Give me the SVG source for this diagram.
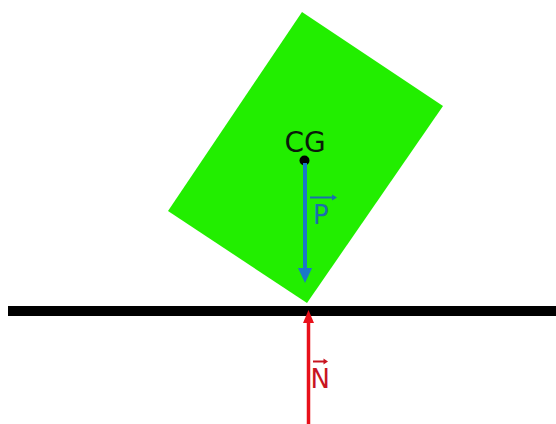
<svg xmlns="http://www.w3.org/2000/svg" width="556" height="424" viewBox="0 0 556 424">
<style>
.lbl{font-family:"DejaVu Sans",sans-serif;}
</style>
<rect width="556" height="424" fill="#ffffff"/>
<g id="block">
<polygon points="302,12 443,106 307,303 168,211" fill="#22ee00"/>
</g>
<g id="ground">
<rect x="8" y="306" width="548" height="10" fill="#000000"/>
</g>
<g id="cg">
<circle cx="304.5" cy="160.5" r="5" fill="#000000"/>
<text class="lbl" x="305" y="152" font-size="28" text-anchor="middle" fill="#0a1a0a">CG</text>
</g>
<g id="connectors">
<g id="force-P">
<line x1="305" y1="163" x2="305" y2="270" stroke="#1a78c8" stroke-width="4"/>
<polygon points="298,268 312,268 305,283" fill="#1a78c8"/>
<line x1="310" y1="197.5" x2="335" y2="197.5" stroke="#1a6fae" stroke-width="2"/>
<polygon points="337,197.5 332,194.5 332,200.5" fill="#1a6fae"/>
<text class="lbl" x="313" y="224" font-size="26" fill="#1a6fae">P</text>
</g>
<g id="force-N">
<line x1="308.5" y1="424" x2="308.5" y2="320" stroke="#e8101a" stroke-width="3.5"/>
<polygon points="303,323 314,323 308.5,310" fill="#e8101a"/>
<line x1="313" y1="361.5" x2="326" y2="361.5" stroke="#c81420" stroke-width="2"/>
<polygon points="328,361.5 323.5,358.5 323.5,364.5" fill="#c81420"/>
<text class="lbl" x="310.5" y="388" font-size="26" fill="#c81420">N</text>
</g>
</g>
</svg>
